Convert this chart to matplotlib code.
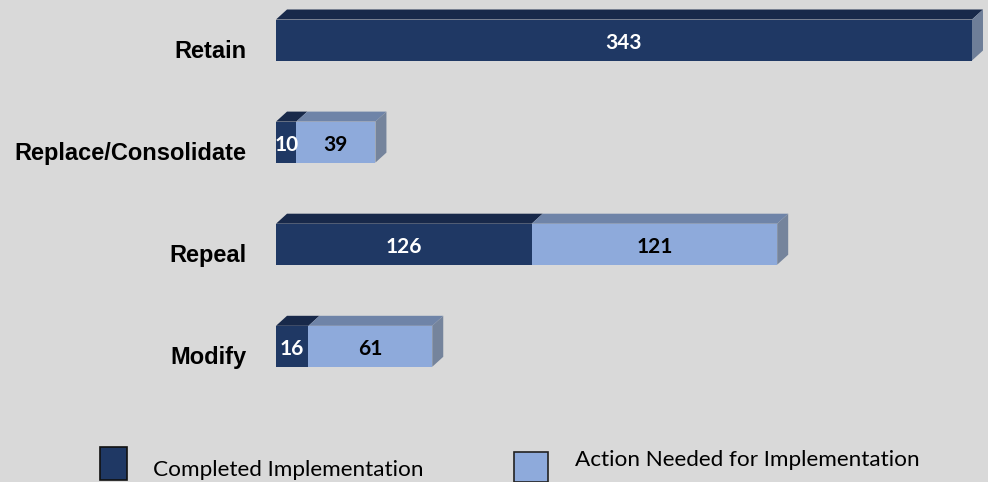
import matplotlib
matplotlib.use("Agg")
import matplotlib.pyplot as plt
from matplotlib.patches import Polygon, Rectangle

categories = ["Retain", "Replace/Consolidate", "Repeal", "Modify"]
completed = [343, 10, 126, 16]
action_needed = [0, 39, 121, 61]
series_names = ["Completed Implementation", "Action Needed for Implementation"]

W, H = 988, 482
fig = plt.figure(figsize=(W / 100, H / 100), dpi=100)
fig.patch.set_facecolor("#d9d9d9")

px_per_unit = (972 - 276) / 343.0
ax = fig.add_axes([276 / W, 0, 1 - 276 / W, 1])
ax.set_facecolor("none")
ax.set_xlim(0, (W - 276) / px_per_unit)
row_px = 102.1
ax.set_ylim((H - 40) / row_px, -40 / row_px)
ax.axis("off")

front = ["#1f3864", "#8eaadb"]
top = ["#18294a", "#6f84a8"]
side = ["#6e7e98", "#75849c"]
bar_h = 41 / row_px
dx = 11 / px_per_unit
dy = -10 / row_px

for i, cat in enumerate(categories):
    segs = [(0, completed[i], 0), (completed[i], action_needed[i], 1)]
    segs = [s for s in segs if s[1] > 0]
    yt = i - bar_h / 2
    yb = i + bar_h / 2
    for k, (left, val, c) in enumerate(segs):
        ax.barh(i, val, left=left, height=bar_h, color=front[c], edgecolor="none", zorder=2)
        x0, x1 = left, left + val
        ax.add_patch(Polygon([(x0, yt), (x1, yt), (x1 + dx, yt + dy), (x0 + dx, yt + dy)],
                             closed=True, facecolor=top[c], edgecolor="none", zorder=1))
        if k == len(segs) - 1:
            ax.add_patch(Polygon([(x1, yt), (x1 + dx, yt + dy), (x1 + dx, yb + dy), (x1, yb)],
                                 closed=True, facecolor=side[c], edgecolor="none", zorder=1))
        ax.text(left + val / 2, i + 0.09, str(val), ha="center", va="baseline",
                color="white" if c == 0 else "black", fontsize=15, fontweight="bold",
                family="Lato", zorder=3)
    ax.text(-30 / px_per_unit, i + 0.175, cat, ha="right", va="baseline", fontsize=17,
            fontweight="bold", family="Liberation Sans", color="black")

# legend
fig.patches.append(Rectangle((100 / W, 1 - 480 / H), 27 / W, 33 / H, transform=fig.transFigure,
                             facecolor=front[0], edgecolor="#111111", linewidth=1.2))
fig.text(153 / W, 1 - 476 / H, series_names[0], ha="left", va="baseline", fontsize=16.2,
         family="Lato", color="black")
fig.patches.append(Rectangle((514 / W, 1 - 482 / H), 34 / W, 30 / H, transform=fig.transFigure,
                             facecolor=front[1], edgecolor="#222222", linewidth=1.2))
fig.text(575 / W, 1 - 466 / H, series_names[1], ha="left", va="baseline", fontsize=16.2,
         family="Lato", color="black")

fig.savefig("out.png", dpi=100, facecolor=fig.get_facecolor())
